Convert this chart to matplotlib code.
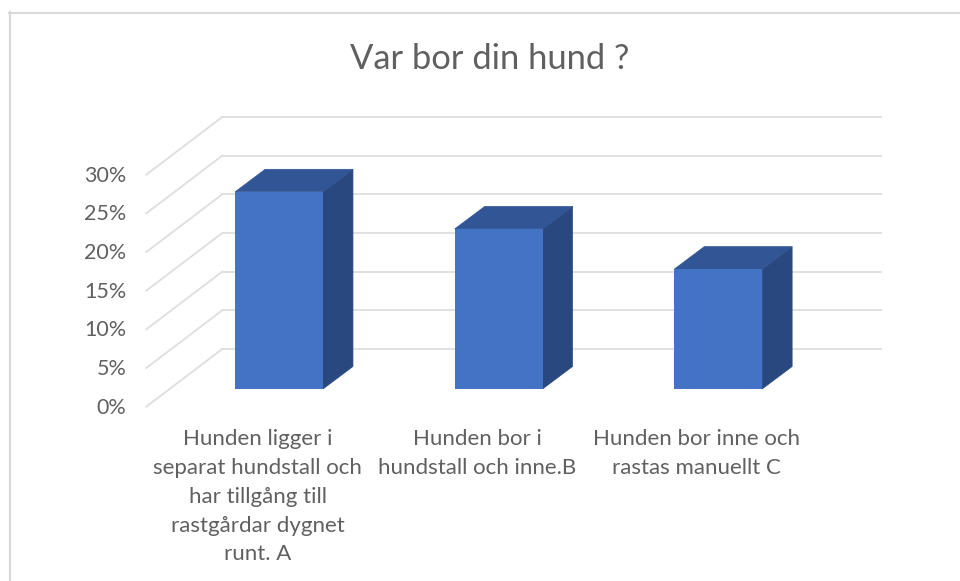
import matplotlib
matplotlib.use("Agg")
import matplotlib.pyplot as plt
from matplotlib.transforms import Affine2D

plt.rcParams['font.family'] = ['Lato', 'DejaVu Sans']

categories = ["Hunden ligger i\nseparat hundstall och\nhar tillgång till\nrastgårdar dygnet\nrunt. A",
              "Hunden bor i\nhundstall och inne.B",
              "Hunden bor inne och\nrastas manuellt C"]
values = [25.5, 20.7, 15.5]
ticks = [0, 5, 10, 15, 20, 25, 30]
tick_labels = ["0%", "5%", "10%", "15%", "20%", "25%", "30%"]
title = "Var bor din hund ?"

W, H = 960, 581
FRONT = "#4472C4"
SIDE = "#2A4880"
TOP = "#325695"
GRID = "#DEDEDE"
TEXT = "#606060"

fig = plt.figure(figsize=(W / 100, H / 100), dpi=100)
# axes = the plane of the bars' front faces
ax = fig.add_axes([169.25 / W, (H - 389) / H, 658.75 / W, 232 / H])
ax.set_xlim(-0.5, 2.5)
ax.set_ylim(0, 30)
ax.axis("off")


# pixel shifts for the fake 3d depth
def shifted(dx, dy):
    return Affine2D().translate(dx, dy)


front_wall = ax.transData + shifted(-23, -17.7)
back_wall = ax.transData + shifted(53, 40)
bar_back = ax.transData + shifted(30, 22.5)

for t, lab in zip(ticks, tick_labels):
    ax.plot([-0.5, 2.5], [t, t], color=GRID, lw=1.3, transform=back_wall, clip_on=False, zorder=1)
    # diagonal from the label side to the back wall
    p0 = front_wall.transform((-0.5, t))
    p1 = back_wall.transform((-0.5, t))
    ax.plot([p0[0], p1[0]], [p0[1], p1[1]], color=GRID, lw=1.3, transform=None, clip_on=False, zorder=1)
    ax.text(-0.5, t, lab, transform=front_wall + shifted(-20, -1), ha="right", va="center",
            fontsize=15.5, color=TEXT, clip_on=False)

width = 0.4
for i, v in enumerate(values):
    l, r = i - width / 2, i + width / 2
    # corners of the box in display pixels
    fbl, fbr = ax.transData.transform([(l, 0), (r, 0)])
    ftl, ftr = ax.transData.transform([(l, v), (r, v)])
    bbr, btl, btr = bar_back.transform([(r, 0), (l, v), (r, v)])
    ax.fill([fbr[0], bbr[0], btr[0], ftr[0]], [fbr[1], bbr[1], btr[1], ftr[1]],
            color=SIDE, lw=0.5, transform=None, clip_on=False, zorder=3)
    ax.fill([ftl[0], ftr[0], btr[0], btl[0]], [ftl[1], ftr[1], btr[1], btl[1]],
            color=TOP, lw=0.5, transform=None, clip_on=False, zorder=3)
    ax.bar(i, v, width=width, color=FRONT, zorder=4)
    ax.text(i, -5.2, categories[i], transform=ax.transData + shifted(-21.5, 0), ha="center", va="top",
            fontsize=16, color=TEXT, linespacing=1.55, clip_on=False)

fig.text(489.5 / W, 1 - 59 / H, title, ha="center", va="center", fontsize=24.8, color=TEXT)

# frame of the screenshot
fig.add_artist(plt.Line2D([9.5 / W, 9.5 / W], [0, 1 - 12 / H], color="#D9D9D9", lw=1.5))
fig.add_artist(plt.Line2D([9 / W, 1], [1 - 12.5 / H, 1 - 12.5 / H], color="#D9D9D9", lw=1.5))

fig.savefig("out.png", dpi=100)
